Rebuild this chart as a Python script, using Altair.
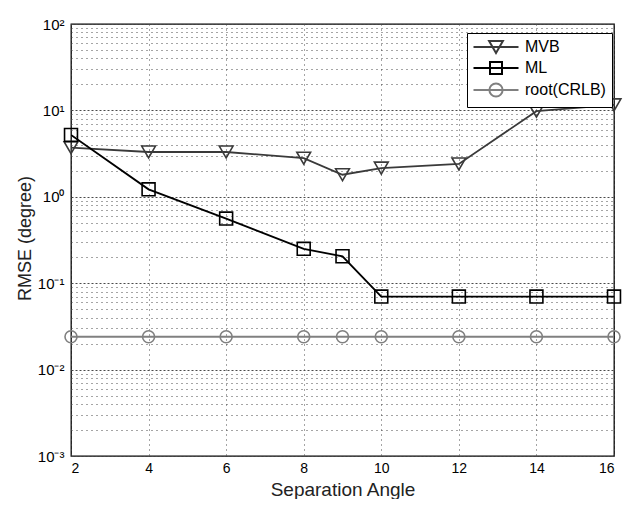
import altair as alt
import pandas as pd

# ---------------- data ----------------
angles = [2, 4, 6, 8, 9, 10, 12, 14, 16]
mvb = [3.7, 3.3, 3.3, 2.8, 1.8, 2.15, 2.4, 9.8, 11.6]
ml = [5.2, 1.22, 0.56, 0.25, 0.205, 0.07, 0.07, 0.07, 0.07]
crlb = [0.024, 0.024, 0.024, 0.024, 0.024, 0.024, 0.024, 0.024, 0.024]

series_names = ["MVB", "ML", "root(CRLB)"]
series_colors = ["#3a3a3a", "#000000", "#808080"]
series_line_widths = [1.8, 2.0, 2.6]
series_shapes = ["triangle-down", "square", "circle"]
series_sizes = [190, 144, 169]

# legend symbols: a line with the marker on it
legend_paths = [
    "M-3.75,0H3.75M-1.15,-1L1.15,-1L0,1Z",
    "M-3.75,0H3.75M-1,-1H1V1H-1Z",
    "M-3.75,0H3.75M1.1,0A1.1,1.1,0,1,1,-1.1,0A1.1,1.1,0,1,1,1.1,0Z",
]

x_ticks = [2, 4, 6, 8, 10, 12, 14, 16]
y_decades = [0.001, 0.01, 0.1, 1, 10, 100]
y_decade_labels = ["10⁻³", "10⁻²", "10⁻¹", "10⁰", "10¹", "10²"]
minor_multipliers = [1, 2, 3, 4, 5, 6, 7, 8, 9]

# ---------------- table ----------------
rows = []
for name, vals in zip(series_names, [mvb, ml, crlb]):
    for a, v in zip(angles, vals):
        rows.append({"angle": a, "rmse": v, "series": name})
df = pd.DataFrame(rows)

y_grid = []
for d in y_decades[:-1]:
    for m in minor_multipliers:
        y_grid.append(round(m * d, 6))
y_grid.append(y_decades[-1])

label_expr = " : ".join(
    f"datum.value == {v} ? '{lab}'" for v, lab in zip(y_decades, y_decade_labels)
) + " : ''"

decade_test = " || ".join(f"datum.value == {v}" for v in y_decades)

FONT = "Liberation Sans"

x_enc = alt.X(
    "angle:Q",
    scale=alt.Scale(domain=[2, 16], nice=False, zero=False),
    axis=alt.Axis(
        values=x_ticks,
        title="Separation Angle",
        labelFontSize=14,
        labelPadding=5,
        titleFontSize=19,
        titleFontWeight="normal",
        titleY=39,
        titleBaseline="alphabetic",
        ticks=False,
        grid=True,
        gridDash=[1, 4],
        gridColor="#4a4a4a",
        gridWidth=1,
        domain=False,
    ),
)

y_enc = alt.Y(
    "rmse:Q",
    scale=alt.Scale(type="log", domain=[0.001, 100], nice=False),
    axis=alt.Axis(
        values=y_grid,
        labelExpr=label_expr,
        title="RMSE (degree)",
        labelFontSize=15,
        labelPadding=7,
        titleFontSize=18,
        titleFontWeight="normal",
        titleX=-46,
        titleY=214,
        titleAngle=-90,
        titleAlign="center",
        titleBaseline="middle",
        ticks=False,
        grid=True,
        gridDash={"condition": {"test": decade_test, "value": [2, 2]}, "value": [1, 4]},
        gridColor="#4a4a4a",
        gridWidth=1,
        domain=False,
    ),
)

color_scale = alt.Scale(domain=series_names, range=series_colors)

lines = alt.Chart(df).mark_line(clip=True).encode(
    x=x_enc,
    y=y_enc,
    color=alt.Color("series:N", scale=color_scale, legend=None),
    strokeWidth=alt.StrokeWidth(
        "series:N", scale=alt.Scale(domain=series_names, range=series_line_widths), legend=None
    ),
    detail="series:N",
)

points = alt.Chart(df).mark_point(filled=False, strokeWidth=1.6, opacity=1).encode(
    x=x_enc,
    y=y_enc,
    color=alt.Color("series:N", scale=color_scale, legend=None),
    shape=alt.Shape("series:N", scale=alt.Scale(domain=series_names, range=series_shapes), legend=None),
    size=alt.Size("series:N", scale=alt.Scale(domain=series_names, range=series_sizes), legend=None),
)

legend_layer = alt.Chart(df).mark_point(filled=False, opacity=0).encode(
    x=x_enc,
    y=y_enc,
    color=alt.Color(
        "series:N",
        scale=color_scale,
        legend=alt.Legend(
            title=None,
            orient="none",
            legendX=396,
            legendY=9,
            direction="vertical",
            fillColor="white",
            strokeColor="black",
            padding=6,
            symbolSize=144,
            symbolStrokeWidth=2,
            symbolOpacity=1,
            symbolOffset=15,
            labelOffset=21,
            labelFontSize=16,
            labelFont=FONT,
            labelColor="black",
            rowPadding=1,
        ),
    ),
    shape=alt.Shape(
        "series:N",
        scale=alt.Scale(domain=series_names, range=legend_paths),
        legend=alt.Legend(title=None),
    ),
)

chart = (
    alt.layer(lines, points, legend_layer)
    .resolve_scale(color="independent", shape="independent")
    .resolve_legend(color="independent", shape="independent")
    .properties(
        width=543,
        height=432,
        autosize=alt.AutoSizeParams(type="none"),
        padding={"left": 63, "top": 16, "right": 9, "bottom": 43},
        background="white",
    )
    .configure_view(stroke="black", strokeWidth=1.3)
    .configure_axis(labelFont=FONT, titleFont=FONT, labelColor="black", titleColor="#222222")
    .configure_legend(labelFont=FONT)
)

chart.save("out.html", embed_options={"renderer": "svg", "actions": False})
